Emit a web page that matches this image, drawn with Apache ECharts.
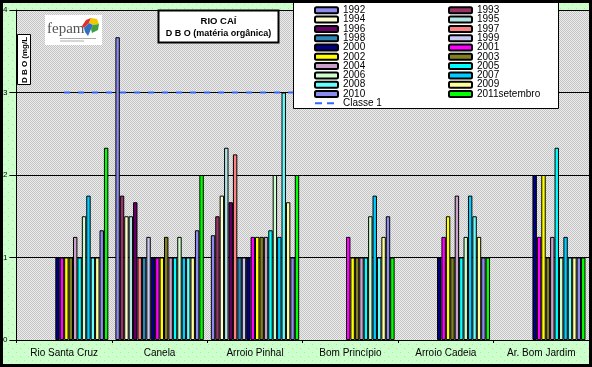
<!DOCTYPE html>
<html>
<head>
<meta charset="utf-8">
<script src="https://cdn.jsdelivr.net/npm/echarts@6/dist/echarts.min.js"></script>
<style>
html,body{margin:0;padding:0;background:#fff;}
#c{width:592px;height:367px;}
</style>
</head>
<body>
<div id="c"></div>
<script>
// ---- data ----
var categories = ['Rio Santa Cruz', 'Canela', 'Arroio Pinhal', 'Bom Princípio', 'Arroio Cadeia', 'Ar. Bom Jardim'];
var seriesNames = ['1992','1993','1994','1995','1996','1997','1998','1999','2000','2001',
                   '2002','2003','2004','2005','2006','2007','2008','2009','2010','2011setembro'];
var v1992 = [null, 3.67, 1.27, null, null, null];
var v1993 = [null, 1.75, 1.5, null, null, null];
var v1994 = [null, 1.5, 1.75, null, null, null];
var v1995 = [null, 1.5, 2.33, null, null, null];
var v1996 = [null, 1.67, 1.67, null, null, null];
var v1997 = [null, 1, 2.25, null, null, null];
var v1998 = [null, 1, 1, null, null, null];
var v1999 = [null, 1.25, 1, null, null, null];
var v2000 = [1, 1, 1, null, 1, 2];
var v2001 = [1, 1, 1.25, 1.25, 1.25, 1.25];
var v2002 = [1, 1, 1.25, 1, 1.5, 2];
var v2003 = [1, 1.25, 1.25, 1, 1, 1];
var v2004 = [1.25, 1, 1.25, 1, 1.75, 1.25];
var v2005 = [1, 1, 1.33, 1, 1, 2.33];
var v2006 = [1.5, 1.25, 2, 1.5, 1.25, 1];
var v2007 = [1.75, 1, 1.25, 1.75, 1.75, 1.25];
var v2008 = [1, 1, 3, 1, 1.5, 1];
var v2009 = [1, 1, 1.67, 1.25, 1.25, 1];
var v2010 = [1.33, 1.33, 1, 1.5, 1, 1];
var v2011 = [2.33, 2, 2, 1, 1, 1];
var classe1Name = 'Classe 1';
var classe1 = [3, 3, 3, 3, 3, 3];
var yTicks = [0, 1, 2, 3, 4];

var seriesValues = [v1992,v1993,v1994,v1995,v1996,v1997,v1998,v1999,v2000,v2001,
                    v2002,v2003,v2004,v2005,v2006,v2007,v2008,v2009,v2010,v2011];
var seriesColors = ['#8c8cf0','#993366','#ffffcc','#b4e6e6','#660066','#ff8080','#2b88b8','#c8c8f0','#000080','#ff00ff',
                    '#ffff00','#808020','#c8a0c8','#00ffff','#ccffcc','#00ccff','#66ffff','#ffff99','#8c8cf0','#00ff00'];

function makePattern(size, bg, dots, dotColor) {
  var c = document.createElement('canvas');
  c.width = size; c.height = size;
  var g = c.getContext('2d');
  g.fillStyle = bg; g.fillRect(0, 0, size, size);
  g.fillStyle = dotColor;
  dots.forEach(function (d) { g.fillRect(d[0], d[1], 1, 1); });
  return c;
}
var grayPat = makePattern(2, '#ececec', [[0,0],[1,1]], '#c4c4c4');
var greenPat = makePattern(8, '#ccffcc', [[0,0],[4,4]], '#b4e4b4');

var series = seriesNames.map(function (n, i) {
  return {
    name: n, type: 'bar', data: seriesValues[i],
    barGap: '0%', barCategoryGap: '7.4%',
    itemStyle: { color: seriesColors[i], borderColor: '#000', borderWidth: 1 },
    emphasis: { disabled: true },
    animation: false
  };
});
series.push({
  name: classe1Name, type: 'line', data: classe1, symbol: 'none',
  lineStyle: { color: '#3366ff', width: 2, type: [6, 8] },
  itemStyle: { color: '#3366ff' },
  z: 2, animation: false
});

var leftNames = [], rightNames = [];
seriesNames.forEach(function (n, i) { (i % 2 === 0 ? leftNames : rightNames).push(n); });
leftNames.push({ name: classe1Name,
  itemStyle: { color: 'rgba(0,0,0,0)', borderColor: 'rgba(0,0,0,0)', borderWidth: 0, opacity: 0 },
  lineStyle: { type: [7, 5], width: 2, color: '#3366ff' } });

var legendCommon = {
  orient: 'vertical', itemWidth: 23, itemHeight: 6, itemGap: -0.7, padding: 0,
  textStyle: { fontFamily: 'Liberation Sans, Arial', fontSize: 10, color: '#000' },
  selectedMode: false, z: 20
};

var chart = echarts.init(document.getElementById('c'), null, { renderer: 'canvas' });
chart.setOption({
  animation: false,
  backgroundColor: { image: greenPat, repeat: 'repeat' },
  grid: { left: 16, right: 3, top: 10, bottom: 27, show: true,
          backgroundColor: { image: grayPat, repeat: 'repeat' }, borderWidth: 0 },
  legend: [
    Object.assign({}, legendCommon, { left: 314, top: 5.3, data: leftNames }),
    Object.assign({}, legendCommon, { left: 448, top: 5.3, data: rightNames })
  ],
  xAxis: {
    type: 'category', data: categories,
    axisLine: { lineStyle: { color: '#000', width: 1 } },
    axisTick: { show: true, length: 3, lineStyle: { color: '#000' } },
    axisLabel: { interval: 0, fontFamily: 'Liberation Sans, Arial', fontSize: 10, color: '#000', margin: 8 }
  },
  yAxis: {
    type: 'value', min: yTicks[0], max: yTicks[yTicks.length - 1], interval: 1,
    axisLine: { show: true, lineStyle: { color: '#000', width: 1 } },
    axisTick: { show: true, length: 7, lineStyle: { color: '#000' } },
    axisLabel: { fontFamily: 'Liberation Sans, Arial', fontSize: 8, color: '#000', margin: 9 },
    splitLine: { show: true, lineStyle: { color: '#000', width: 1 } }
  },
  series: series,
  graphic: [
    // legend box
    { type: 'rect', z: 10, shape: { x: 293.5, y: 2.5, width: 265, height: 106 },
      style: { fill: '#fff', stroke: '#000', lineWidth: 1 } },
    // title box
    { type: 'rect', z: 10, shape: { x: 158.5, y: 10.5, width: 120, height: 32 },
      style: { fill: '#fff', stroke: '#000', lineWidth: 2 } },
    { type: 'text', z: 11, x: 218.5, y: 21, style: { text: 'RIO CAÍ', fill: '#000',
      font: 'bold 9.5px "Liberation Sans", Arial', align: 'center', verticalAlign: 'middle' } },
    { type: 'text', z: 11, x: 218.5, y: 34, style: { text: 'D B O (matéria orgânica)', fill: '#000',
      font: 'bold 9px "Liberation Sans", Arial', align: 'center', verticalAlign: 'middle' } },
    // y title box
    { type: 'rect', z: 10, shape: { x: 17.5, y: 34.5, width: 13, height: 50 },
      style: { fill: '#fff', stroke: '#000', lineWidth: 1 } },
    { type: 'text', z: 11, x: 24.5, y: 60, rotation: Math.PI / 2,
      style: { text: 'D B O (mg/L', fill: '#000', font: 'bold 8px "Liberation Sans", Arial',
               align: 'center', verticalAlign: 'middle' } },
    // logo
    { type: 'rect', z: 10, shape: { x: 45, y: 15, width: 57, height: 30 }, style: { fill: '#fff' } },
    { type: 'text', z: 11, x: 47, y: 37, style: { text: 'fepam', fill: '#555',
      font: '15px "Liberation Serif", "DejaVu Serif", serif', verticalAlign: 'bottom' } },
    { type: 'polygon', z: 11, shape: { points: [[82,26],[86,20],[91,18],[89,23],[84,28]] }, style: { fill: '#e03030' } },
    { type: 'polygon', z: 11, shape: { points: [[91,18],[97,19],[99,24],[93,25],[89,23]] }, style: { fill: '#f0c800' } },
    { type: 'polygon', z: 11, shape: { points: [[93,25],[99,24],[98,30],[92,33],[91,29]] }, style: { fill: '#40a040' } },
    { type: 'polygon', z: 11, shape: { points: [[84,28],[89,23],[93,25],[91,29],[88,36],[85,32]] }, style: { fill: '#3070c0' } },
    { type: 'rect', z: 11, shape: { x: 60, y: 38, width: 36, height: 1 }, style: { fill: '#aaa' } },
    { type: 'rect', z: 11, shape: { x: 60, y: 40.5, width: 24, height: 1 }, style: { fill: '#aaa' } },
    // outer border
    { type: 'rect', z: 30, shape: { x: 1.5, y: 1.5, width: 589, height: 364 },
      style: { fill: 'none', stroke: '#000', lineWidth: 3 } }
  ]
});
</script>
</body>
</html>
